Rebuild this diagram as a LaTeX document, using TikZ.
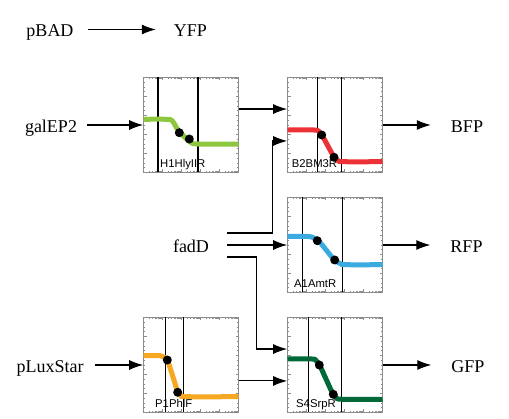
\documentclass[tikz,border=0pt]{standalone}
\usepackage{fontspec}
\setmainfont{Liberation Serif}
\newfontfamily\boxlabelfont{Liberation Sans}
\usetikzlibrary{arrows.meta,calc}
\definecolor{cgreen}{RGB}{141,198,63}
\definecolor{cred}{RGB}{237,50,55}
\definecolor{cblue}{RGB}{59,170,225}
\definecolor{corange}{RGB}{247,168,35}
\definecolor{cdkgreen}{RGB}{0,105,55}
\definecolor{tickgray}{RGB}{140,140,140}
\newcommand\boxticks[2]{%
 \foreach \i in {1,...,19}{%
   \pgfmathsetmacro\yy{#2+\i*4.75}%
   \pgfmathsetmacro\tl{ifthenelse(mod(\i,4)==0,3,1.6)}%
   \draw[tick] (#1,\yy) -- ++(\tl,0);
   \draw[tick] (#1+95,\yy) -- ++(-\tl,0);
 }%
 \foreach \d in {0,...,4}{\foreach \k in {1,...,9}{%
   \pgfmathsetmacro\xx{#1+19*(\d+log10(\k))}%
   \pgfmathsetmacro\tl{ifthenelse(\k==1,3,1.6)}%
   \draw[tick] (\xx,#2) -- ++(0,\tl);
   \draw[tick] (\xx,#2+95) -- ++(0,-\tl);
 }}%
}
\begin{document}
\begin{tikzpicture}[x=1pt,y=-1pt,
  lbl/.style={font=\fontsize{18}{18}\selectfont, inner sep=0pt, text height=15pt, text depth=0pt},
  plotbox/.style={draw=tickgray, line width=0.7pt, minimum width=95pt, minimum height=95pt, inner sep=0pt},
  tick/.style={draw=tickgray, line width=0.6pt},
  vline/.style={line width=1.5pt},
  curve/.style={line width=5pt, line cap=butt, line join=round},
  dot/.style={circle, fill=black, inner sep=0pt, minimum size=9pt},
  boxlbl/.style={font=\boxlabelfont\fontsize{11.3}{11.3}\selectfont, inner sep=0pt, anchor=base west},
  arr/.style={line width=1.1pt, -{Latex[length=14pt,width=10pt]}}]
\useasboundingbox (0,0) rectangle (509,419);
% boxes
\node[plotbox] (b1) at (191,125) {};
\node[plotbox] (b2) at (335,125) {};
\node[plotbox] (b3) at (335,245) {};
\node[plotbox] (b4) at (191,365) {};
\node[plotbox] (b5) at (335,365) {};
\boxticks{143.5}{77.5}
\boxticks{287.5}{77.5}
\boxticks{287.5}{197.5}
\boxticks{143.5}{317.5}
\boxticks{287.5}{317.5}
% vertical lines
\draw[vline] (158,77.5) -- (158,172.5) (198,77.5) -- (198,172.5);
\draw[vline] (317.7,77.5) -- (317.7,172.5) (341.7,77.5) -- (341.7,172.5);
\draw[vline] (302.3,197.5) -- (302.3,292.5) (342.3,197.5) -- (342.3,292.5);
\draw[vline] (165.7,317.5) -- (165.7,412.5) (183.3,317.5) -- (183.3,412.5);
\draw[vline] (308.3,317.5) -- (308.3,412.5) (341.7,317.5) -- (341.7,412.5);
% curves
\draw[curve, cgreen] plot[smooth, tension=0.5] coordinates {(143.5,119.3) (166,119.3) (172,120.5) (178,130) (185,137.5) (191,142.5) (198,144) (238.5,144)};
\draw[curve, cred] plot[smooth, tension=0.5] coordinates {(287.5,130) (314,130) (319,131.5) (323,137) (329,148) (334,157) (338,160.5) (343,161.7) (382.5,161.7)};
\draw[curve, cblue] plot[smooth, tension=0.5] coordinates {(287.5,236.5) (308,236.5) (314,238) (320,242.5) (327,251) (334,259.5) (340,263.5) (346,264.7) (382.5,264.7)};
\draw[curve, corange] plot[smooth, tension=0.5] coordinates {(143.5,355.7) (160,355.7) (164,357) (168,362) (173,377) (177.5,391) (181,395.5) (186,396.7) (238.5,396.7)};
\draw[curve, cdkgreen] plot[smooth, tension=0.5] coordinates {(287.5,359) (312,359) (316,360.5) (320,366) (326,379) (332,392) (336,397.5) (342,399.3) (382.5,399.3)};
% dots
\node[dot] (d1a) at (179.3,132.7) {};
\node[dot] (d1b) at (189.3,139) {};
\node[dot] (d2a) at (321.7,135) {};
\node[dot] (d2b) at (334,157.3) {};
\node[dot] (d3a) at (317.3,240.7) {};
\node[dot] (d3b) at (334.7,260) {};
\node[dot] (d4a) at (167.3,360) {};
\node[dot] (d4b) at (177.7,392.3) {};
\node[dot] (d5a) at (319.3,365) {};
\node[dot] (d5b) at (333.3,394.3) {};
% box labels
\node[boxlbl] (l1) at (160,168) {H1HlyIIR};
\node[boxlbl] (l2) at (291.7,168) {B2BM3R};
\node[boxlbl] (l3) at (294,288) {A1AmtR};
\node[boxlbl] (l4) at (155,408) {P1PhlF};
\node[boxlbl] (l5) at (296,408) {S4SrpR};
% texts
\node[lbl] (pBAD) at (50,29.5) {pBAD};
\node[lbl] (YFP) at (190.5,29.5) {YFP};
\node[lbl] (galEP2) at (51,125) {galEP2};
\node[lbl] (fadD) at (191,245) {fadD};
\node[lbl] (pLuxStar) at (50,365) {pLuxStar};
\node[lbl] (BFP) at (467,125) {BFP};
\node[lbl] (RFP) at (466.5,245) {RFP};
\node[lbl] (GFP) at (468,365) {GFP};
% connectors
\draw[arr] ([xshift=14pt]pBAD.east) -- ([xshift=-18pt]YFP.west);
\draw[arr] ([xshift=10pt]galEP2.east) -- (b1.west);
\draw[arr] ($(b1.north east)!1/3!(b1.south east)$) -- ($(b2.north west)!1/3!(b2.south west)$);
\draw[arr] ([xshift=18pt,yshift=12pt]fadD.east) -- ++(45,0) |- ($(b2.north west)!2/3!(b2.south west)$);
\draw[arr] ([xshift=18pt]fadD.east) -- (b3.west);
\draw[arr] ([xshift=18pt,yshift=-12pt]fadD.east) -- ++(29,0) |- ($(b5.north west)!1/3!(b5.south west)$);
\draw[arr] ($(b4.north east)!2/3!(b4.south east)$) -- ($(b5.north west)!2/3!(b5.south west)$);
\draw[arr] ([xshift=11pt]pLuxStar.east) -- (b4.west);
\draw[arr] (b2.east) -- ([xshift=-20pt]BFP.west);
\draw[arr] (b3.east) -- ([xshift=-20pt]RFP.west);
\draw[arr] (b5.east) -- ([xshift=-20pt]GFP.west);
\end{tikzpicture}
\end{document}
